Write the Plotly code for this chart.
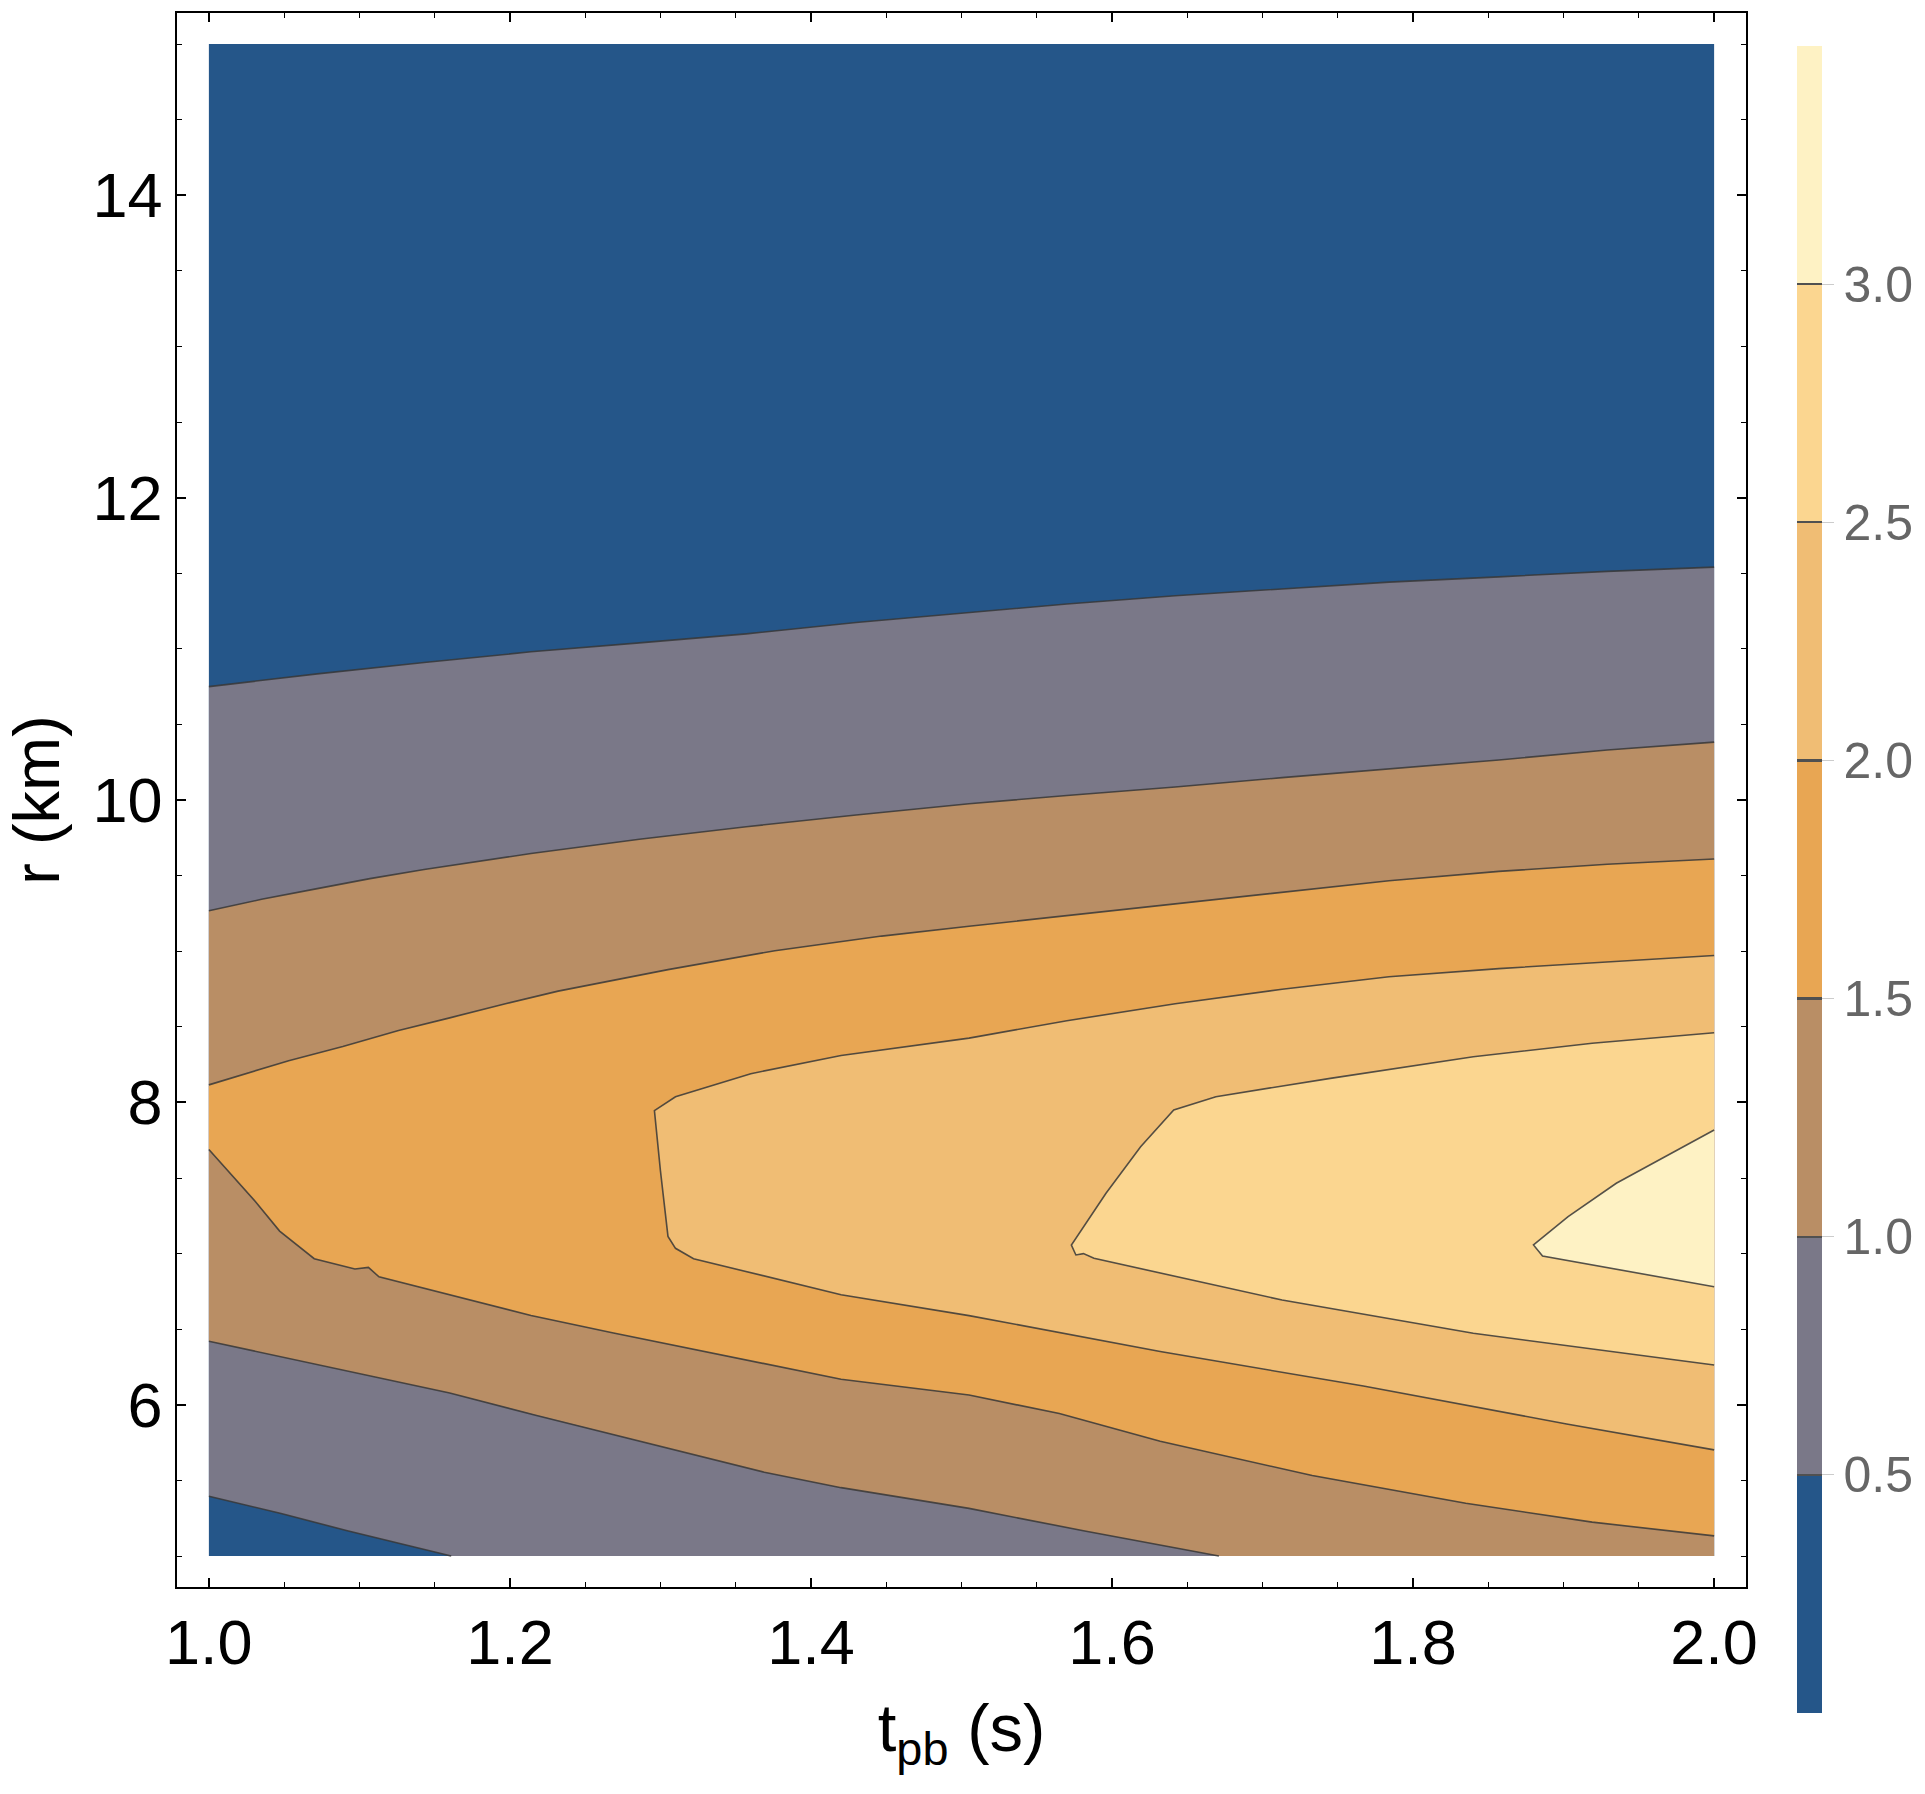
import plotly.graph_objects as go

# ---------------- data ----------------
T_MIN, T_MAX = 1.0, 2.0
R_MIN, R_MAX = 5.0, 15.0

levels = [0.5, 1.0, 1.5, 2.0, 2.5, 3.0]
z_min, z_max = 0.0, 3.5

band_colors = ["#255689", "#7A7888", "#B98E65", "#E8A653",
               "#F0BD74", "#FBD690", "#FEF2C4"]

# level 0.5: upper branch (t increasing) and lower-left branch (t increasing)
c05_up_t = [1.0, 1.072, 1.143, 1.214, 1.286, 1.357, 1.430, 1.510, 1.570, 1.642, 1.713, 1.784, 1.857, 1.929, 2.0]
c05_up_r = [10.75, 10.834, 10.909, 10.98, 11.039, 11.099, 11.174, 11.245, 11.296, 11.351, 11.394, 11.441, 11.476, 11.512, 11.54]
c05_lo_t = [1.0, 1.048, 1.092, 1.161]
c05_lo_r = [5.395, 5.281, 5.167, 5.0]

# level 1.0
c10_up_t = [1.0, 1.035, 1.072, 1.107, 1.143, 1.214, 1.286, 1.357, 1.430, 1.505, 1.570, 1.642, 1.713, 1.784, 1.857, 1.929, 2.0]
c10_up_r = [9.268, 9.343, 9.414, 9.48, 9.54, 9.646, 9.74, 9.823, 9.901, 9.975, 10.03, 10.086, 10.148, 10.208, 10.265, 10.331, 10.383]
c10_lo_t = [1.0, 1.048, 1.106, 1.160, 1.217, 1.268, 1.318, 1.369, 1.420, 1.505, 1.581, 1.671]
c10_lo_r = [6.42, 6.317, 6.192, 6.078, 5.931, 5.805, 5.68, 5.554, 5.452, 5.315, 5.167, 5.0]

# level 1.5
c15_up_t = [1.0, 1.053, 1.089, 1.126, 1.160, 1.197, 1.232, 1.268, 1.305, 1.376, 1.447, 1.505, 1.570, 1.642, 1.713, 1.784, 1.857, 1.929, 2.0]
c15_up_r = [8.116, 8.276, 8.37, 8.476, 8.559, 8.653, 8.736, 8.807, 8.878, 9.003, 9.1, 9.165, 9.235, 9.31, 9.386, 9.466, 9.528, 9.575, 9.61]
c15_lo_t = [1.0, 1.021, 1.031, 1.047, 1.070, 1.097, 1.106, 1.113, 1.160, 1.214, 1.268, 1.318, 1.369, 1.420, 1.505, 1.565, 1.632, 1.733, 1.835, 1.919, 2.0]
c15_lo_r = [7.689, 7.456, 7.343, 7.149, 6.966, 6.898, 6.909, 6.846, 6.728, 6.591, 6.477, 6.374, 6.272, 6.169, 6.065, 5.942, 5.759, 5.532, 5.349, 5.224, 5.133]

# level 2.0: one open curve from the right edge (top) round to the right edge (bottom)
c20_t = [2.0, 1.929, 1.857, 1.784, 1.713, 1.642, 1.570, 1.505, 1.420, 1.360, 1.310, 1.296, 1.300, 1.305, 1.310, 1.322,
         1.420, 1.505, 1.632, 1.767, 1.902, 2.0]
c20_r = [8.972, 8.93, 8.885, 8.831, 8.748, 8.653, 8.54, 8.425, 8.31, 8.19, 8.037, 7.946, 7.547, 7.114, 7.035, 6.966,
         6.728, 6.59, 6.352, 6.124, 5.873, 5.702]

# level 2.5
c25_t = [2.0, 1.919, 1.840, 1.745, 1.669, 1.641, 1.619, 1.596, 1.573, 1.576, 1.581, 1.588, 1.713, 1.840, 2.0]
c25_r = [8.461, 8.391, 8.302, 8.159, 8.038, 7.95, 7.707, 7.399, 7.057, 6.991, 7.0, 6.969, 6.693, 6.473, 6.263]

# level 3.0
c30_t = [2.0, 1.967, 1.935, 1.903, 1.880, 1.886, 2.0]
c30_r = [7.817, 7.641, 7.465, 7.244, 7.057, 6.984, 6.781]

cbar_ticks = [0.5, 1.0, 1.5, 2.0, 2.5, 3.0]

# ---------------- figure ----------------
FONT = "Liberation Sans, Arial, Helvetica, sans-serif"
LINE_COLOR = "rgba(55,55,55,0.85)"
fig = go.Figure()


def poly(t, r, color):
    fig.add_trace(go.Scatter(x=t, y=r, mode="lines", fill="toself", fillcolor=color,
                             line=dict(width=0, color=color), hoverinfo="skip", showlegend=False))


def cline(t, r):
    fig.add_trace(go.Scatter(x=t, y=r, mode="lines", line=dict(width=1.6, color=LINE_COLOR),
                             hoverinfo="skip", showlegend=False))


# base band (below 0.5) covering the whole domain
poly([T_MIN, T_MAX, T_MAX, T_MIN], [R_MIN, R_MIN, R_MAX, R_MAX], band_colors[0])
# > 0.5
poly(c05_up_t + [T_MAX] + c05_lo_t[::-1],
     c05_up_r + [R_MIN] + c05_lo_r[::-1], band_colors[1])
# > 1.0
poly(c10_up_t + [T_MAX] + c10_lo_t[::-1],
     c10_up_r + [R_MIN] + c10_lo_r[::-1], band_colors[2])
# > 1.5
poly(c15_up_t + c15_lo_t[::-1], c15_up_r + c15_lo_r[::-1], band_colors[3])
# > 2.0, 2.5, 3.0 (closed along the right edge)
poly(c20_t, c20_r, band_colors[4])
poly(c25_t, c25_r, band_colors[5])
poly(c30_t, c30_r, band_colors[6])

for t, r in [(c05_up_t, c05_up_r), (c05_lo_t, c05_lo_r), (c10_up_t, c10_up_r), (c10_lo_t, c10_lo_r),
             (c15_up_t, c15_up_r), (c15_lo_t, c15_lo_r), (c20_t, c20_r), (c25_t, c25_r), (c30_t, c30_r)]:
    cline(t, r)

# discrete colour scale for the legend bar, with thin dark separators
n = len(band_colors)
cs = []
sep = 0.0007
for i, c in enumerate(band_colors):
    lo, hi = i / n, (i + 1) / n
    if i > 0:
        cs.append([lo, "#505050"])
        cs.append([lo + sep, "#505050"])
        cs.append([lo + sep, c])
    else:
        cs.append([lo, c])
    if i < n - 1:
        cs.append([hi - sep, c])
        cs.append([hi - sep, "#505050"])
    else:
        cs.append([hi, c])

fig.add_trace(go.Scatter(
    x=[None], y=[None], mode="markers", showlegend=False, hoverinfo="skip",
    marker=dict(color=[z_min], cmin=z_min, cmax=z_max, colorscale=cs, showscale=True,
                colorbar=dict(x=1.0324, xanchor="left", xpad=0, thickness=25,
                              lenmode="pixels", len=1667, y=-0.08, yanchor="bottom", ypad=0,
                              outlinewidth=0, tickvals=cbar_ticks, ticktext=[f"{v:.1f}" for v in cbar_ticks],
                              ticks="outside", ticklen=12, tickcolor="#cccccc", tickwidth=1,
                              tickfont=dict(family=FONT, size=50, color="#666666")))))

axis_common = dict(showline=True, linecolor="black", linewidth=1.5, mirror="ticks",
                   ticks="inside", tickcolor="black", tickwidth=1.5, ticklen=9,
                   showgrid=False, zeroline=False,
                   tickfont=dict(family=FONT, size=63, color="black"))

fig.update_xaxes(range=[0.97882, 2.02118], tick0=1.0, dtick=0.2, tickformat=".1f",
                 minor=dict(dtick=0.05, ticklen=5, ticks="inside", tickcolor="black", tickwidth=1.2),
                 title=dict(text="t<sub>pb</sub> (s)", font=dict(family=FONT, size=67, color="black"), standoff=28),
                 **axis_common)
fig.update_yaxes(range=[4.795, 15.205], tick0=6, dtick=2,
                 minor=dict(dtick=0.5, ticklen=5, ticks="inside", tickcolor="black", tickwidth=1.2),
                 title=dict(text="r (km)", font=dict(family=FONT, size=65, color="black"), standoff=14),
                 **axis_common)

fig.update_layout(width=1925, height=1794, margin=dict(l=177, r=173, t=13, b=207),
                  paper_bgcolor="white", plot_bgcolor="white")

fig.write_html("out.html")
